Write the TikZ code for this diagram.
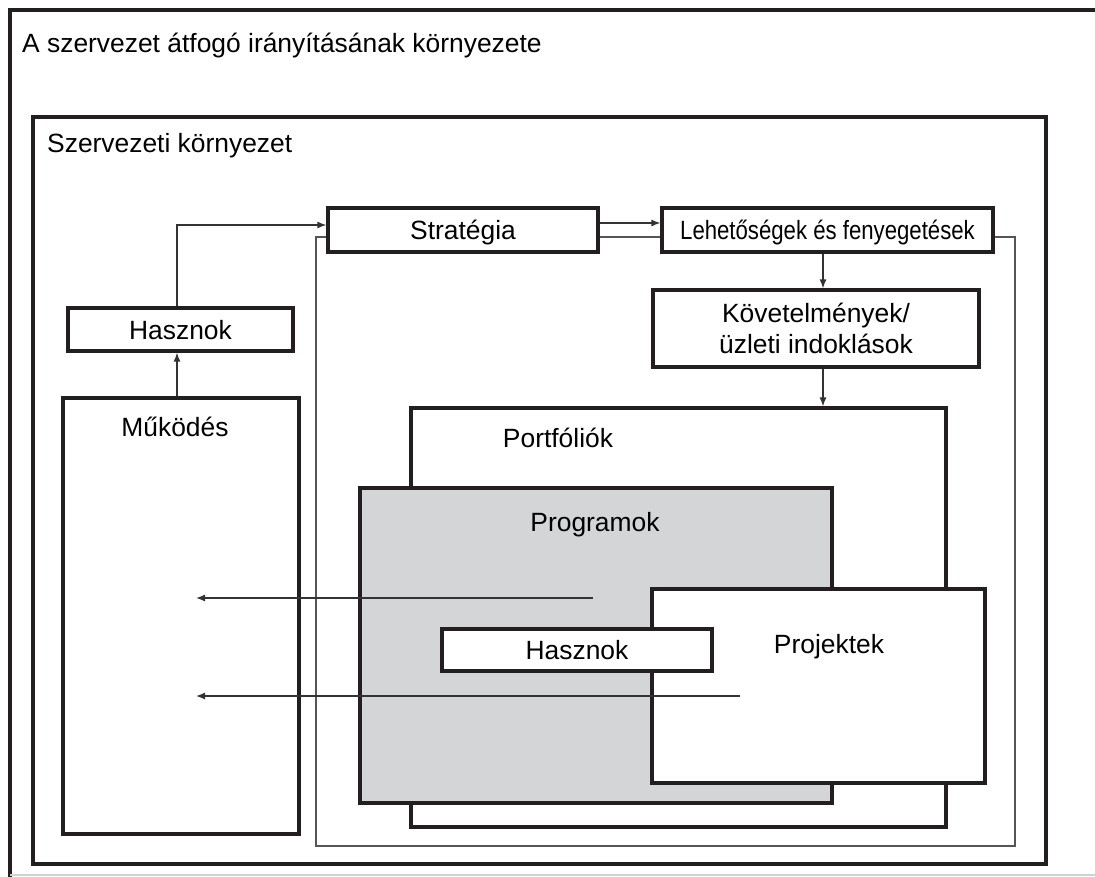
\documentclass[tikz,border=0pt]{standalone}
\usepackage{fontspec}
\setmainfont{Liberation Sans}
\newfontfamily\narrowfont[FakeStretch=0.84]{Liberation Sans}
\usetikzlibrary{arrows.meta}
\definecolor{linec}{HTML}{231F20}
\definecolor{thinc}{HTML}{555555}
\definecolor{arrc}{HTML}{333333}
\definecolor{progfill}{HTML}{D4D5D7}
\begin{document}
\begin{tikzpicture}[x=1pt,y=-1pt,
  box/.style={draw=linec, line width=3.2pt, inner sep=0pt, fill=white},
  lbl/.style={inner sep=0pt, font=\fontsize{26.4}{31}\selectfont, text height=19pt, text depth=0pt},
  thinln/.style={draw=thinc, line width=1.4pt},
  arr/.style={draw=arrc, line width=1.3pt, -{Latex[length=9pt,width=7pt]}},
]
\useasboundingbox (0,0) rectangle (1095,876);
% outer environment
\draw[linec, line width=3.5pt] (1100,10) -- (10,10) -- (10,880);
\draw[black!18, line width=1.5pt] (10,875) -- (1100,875);
\node[lbl, anchor=base west] (title) at (22,52) {A szervezet átfogó irányításának környezete};
% organisational environment
\node[draw=linec, line width=3.2pt, minimum width=1013pt, minimum height=747pt] (env) at (539.5,490.5) {};
\node[lbl, anchor=base west] (envl) at (47,152) {Szervezeti környezet};
% helper coordinates
\coordinate (y223) at (0,223);
\coordinate (y225) at (0,225);
\coordinate (y237) at (0,237);
\coordinate (x177) at (177,0);
\coordinate (x823) at (823,0);
% boxes
\node[box, lbl, minimum width=270pt, minimum height=44pt] (strat) at (463,230) {Stratégia};
\node[box, lbl, minimum width=331pt, minimum height=44pt, font=\fontsize{26.4}{31}\narrowfont] (lehet) at (827.5,230) {Lehetőségek és fenyegetések};
\node[box, inner sep=0pt, minimum width=326pt, minimum height=77pt, align=center, font=\fontsize{26.4}{31}\selectfont] (kov) at (816,328.5) {Követelmények/\\üzleti indoklások};
\node[box, lbl, minimum width=225pt, minimum height=43pt] (hasz1) at (180.5,329.5) {Hasznok};
\node[box, minimum width=236pt, minimum height=436pt] (muk) at (181,616) {};
\node[lbl, anchor=base] (mukl) at (175,436) {Működés};
% thin loop
\draw[thinln] (strat.west |- y237) -- (316,237) -- (316,846) -- (1015,846) -- (1015,237) -- (lehet.east |- y237);
\draw[thinln] (strat.east |- y237) -- (lehet.west |- y237);
% connectors
\draw[arr] (strat.east |- y223) -- (lehet.west |- y223);
\draw[arr] (muk.north -| x177) -- (hasz1.south -| x177);
\draw[arr] (hasz1.north -| x177) |- (strat.west |- y225);
% portfolio stack
\node[box, minimum width=535pt, minimum height=419pt] (port) at (678.5,617.5) {};
\node[lbl, anchor=base] (portl) at (558,447) {Portfóliók};
\draw[arr] (lehet.south -| x823) -- (kov.north -| x823);
\draw[arr] (kov.south -| x823) -- (port.north -| x823);
\node[box, fill=progfill, minimum width=472pt, minimum height=315pt] (prog) at (596,645.5) {};
\node[lbl, anchor=base] (progl) at (595,531) {Programok};
\node[box, minimum width=333pt, minimum height=194pt] (proj) at (818.5,686) {};
\node[lbl, anchor=base] (projl) at (829,653) {Projektek};
\node[box, lbl, minimum width=270pt, minimum height=42pt] (hasz2) at (577,650) {Hasznok};
% benefit flows to operations
\coordinate (s1) at (593,598);
\coordinate (t1) at (196,598);
\coordinate (s2) at (740,696);
\coordinate (t2) at (196,696);
\draw[arr] (s1) -- (t1);
\draw[arr] (s2) -- (t2);
\end{tikzpicture}
\end{document}
